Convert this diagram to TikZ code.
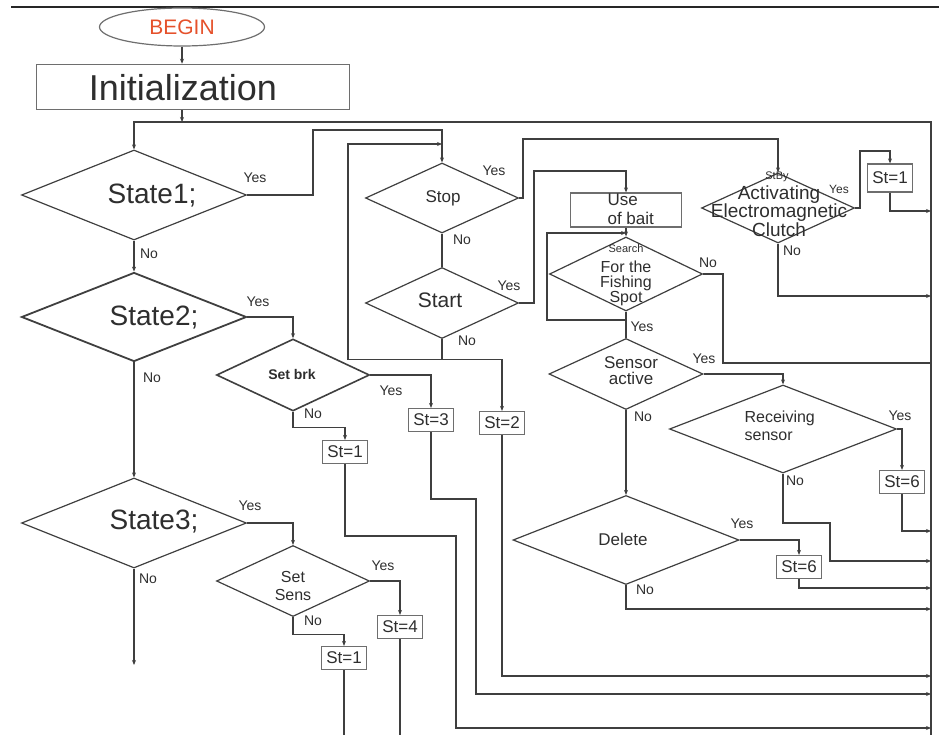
\documentclass[tikz,border=0pt]{standalone}
\usepackage{fontspec}
\setmainfont{Liberation Sans}
\usetikzlibrary{shapes.geometric,arrows.meta}
\definecolor{ln}{HTML}{3F3F3F}
\definecolor{bx}{HTML}{6E6E6E}
\definecolor{tx}{HTML}{2E2E2E}
\definecolor{beg}{HTML}{E5512B}

\begin{document}
\begin{tikzpicture}[x=1pt,y=-1pt,color=ln,line width=1.2pt,
        arr/.style={-{Stealth[length=5pt,width=4pt]}},
        dia/.style 2 args={diamond, draw, inner sep=0pt, minimum width=#1pt, minimum height=#2pt},
        box/.style={draw=bx, minimum width=45pt, minimum height=23pt, inner sep=1pt, text=tx, font=\fontsize{17}{19}\selectfont},
        txt/.style={text=tx, inner sep=0pt, align=center},
        lbl/.style={text=tx, inner sep=0pt, font=\fontsize{14}{16}\selectfont}]
        \useasboundingbox (0,0) rectangle (939,735);
        \draw[line width=2pt, color=black!85] (11,7) -- (939,7);

        \node[ellipse, draw=bx, minimum width=165pt, minimum height=38pt, inner sep=0pt,
            text=beg, font=\fontsize{21}{23}\selectfont] (begin) at (182,27) {BEGIN};
        \node[draw=bx, line width=1.5pt, minimum width=313pt, minimum height=45pt] (init) at (193,87) {};
        \node[txt, font=\fontsize{36}{38}\selectfont] (initt) at (183,88) {Initialization};

        \node[dia={225}{90}] (s1) at (134,195) {};
        \node[dia={225}{89}, line width=1.8pt] (s2) at (134,317) {};
        \node[dia={225}{90}] (s3) at (134,523) {};
        \node[dia={153}{72}, line width=1.6pt] (setbrk) at (293,375) {};
        \node[dia={153}{71}] (setsens) at (293,581) {};
        \node[dia={153}{70}] (stop) at (442,198) {};
        \node[dia={153}{71}] (start) at (442,303) {};
        \node[dia={153}{74}] (search) at (626,274) {};
        \node[dia={154}{71}] (sensor) at (626,374) {};
        \node[dia={227}{88}] (recv) at (783,429) {};
        \node[dia={226}{89}] (delete) at (626,540) {};
        \node[dia={153}{70}] (stby) at (778,208) {};
        \node[draw=bx, minimum width=111pt, minimum height=34pt, inner sep=0pt] (bait) at (626,210) {};

        \node[txt, font=\fontsize{28}{30}\selectfont] (s1t) at (152,196) {State1;};
        \node[txt, font=\fontsize{28}{30}\selectfont] (s2t) at (154,318) {State2;};
        \node[txt, font=\fontsize{28}{30}\selectfont] (s3t) at (154,522) {State3;};
        \node[txt, font=\bfseries\fontsize{14}{16}\selectfont] (setbrkt) at (292,374) {Set brk};
        \node[txt, font=\fontsize{16}{18}\selectfont] (setsenst) at (293,586) {Set\\Sens};
        \node[txt, font=\fontsize{17}{19}\selectfont] (stopt) at (443,198) {Stop};
        \node[txt, font=\fontsize{21}{23}\selectfont] (startt) at (440,300) {Start};
        \node[txt, anchor=west, align=left, font=\fontsize{17}{19}\selectfont] (baitt) at (607,209) {Use\\of bait};
        \node[txt, font=\fontsize{11}{13}\selectfont] (searcht) at (626,249) {Search};
        \node[txt, font=\fontsize{16}{15}\selectfont] (spott) at (626,283) {For the\\Fishing\\Spot};
        \node[txt, font=\fontsize{17}{16}\selectfont] (sensort) at (631,371) {Sensor\\active};
        \node[txt, anchor=west, align=left, font=\fontsize{16}{18}\selectfont] (recvt) at (744,426) {Receiving\\sensor};
        \node[txt, font=\fontsize{17}{19}\selectfont] (deletet) at (623,539) {Delete};
        \node[txt, font=\fontsize{11}{13}\selectfont] (stbyt) at (777,177) {StBy};
        \node[txt, font=\fontsize{19}{17}\selectfont] (clutcht) at (779,211) {Activating\\[-1pt]Electromagnetic\\Clutch};

        \node[box, minimum height=28pt] (st1c) at (890,178) {St=1};
        \node[box] (st3) at (431,420) {St=3};
        \node[box] (st2) at (502,423) {St=2};
        \node[box] (st1a) at (345,452) {St=1};
        \node[box] (st4) at (400,627) {St=4};
        \node[box] (st1b) at (344,658) {St=1};
        \node[box] (st6a) at (902,482) {St=6};
        \node[box] (st6b) at (799,567) {St=6};

        \coordinate (busT) at (931,122);
        \coordinate (busB) at (931,735);
        \coordinate (j0) at (182,122);
        \coordinate (s3end) at (134,665);

        \draw[arr] (begin.south) -- (init.north -| begin.south);
        \draw[arr] (init.south -| j0) -- (j0);
        \draw[arr] (busB) -- (busT) -| (s1.north);
        \draw[arr] (s1.south) -- (s2.north);
        \draw[arr] (s2.south) -- (s3.north);
        \draw[arr] (s3.south) -- (s3end);
        \draw[arr] (s1.east) -| (313,130) -| (stop.north);
        \draw[arr] (s2.east) -| (setbrk.north);
        \draw[arr] (s3.east) -| (setsens.north);
        \draw[arr] (setbrk.east) -| (st3.north);
        \draw[arr] (setbrk.south) -- ++(0,16) -| (st1a.north);
        \draw[arr] (setsens.east) -| (st4.north);
        \draw[arr] (setsens.south) -- ++(0,17) -| (st1b.north);
        \draw (stop.south) -- (start.north);
        \draw[arr] (stop.east) -| (523,139) -| (stby.north);
        \draw[arr] (start.east) -| (534,171) -| (bait.north);
        \draw (start.south) -- ++(0,20) coordinate (j1);
        \draw[arr] (j1) -| (st2.north);
        \draw[arr] (j1) -| (348,144) -- (442,144);
        \draw[arr] (bait.south) -- (search.north);
        \draw[arr] (search.south |- 0,320) -| (547,233) -- (626,233);
        \draw (search.south) -- (sensor.north);
        \draw (search.east) -| (723,363) -- (931,363);
        \draw[arr] (sensor.east) -| (recv.north);
        \draw[arr] (sensor.south) -- (delete.north);
        \draw[arr] (recv.east) -| (st6a.north);
        \draw[arr] (st6a.south) |- (931,531);
        \draw[arr] (recv.south) |- (830,523) |- (931,561);
        \draw[arr] (delete.east) -| (st6b.north);
        \draw[arr] (st6b.south) |- (931,588);
        \draw[arr] (delete.south) |- (931,609);
        \draw[arr] (stby.east) -| (860,151) -| (st1c.north);
        \draw[arr] (st1c.south) |- (931,211);
        \draw[arr] (stby.south) |- (931,296);
        \draw[arr] (st2.south) |- (931,676);
        \draw[arr] (st3.south) |- (476,499) |- (931,694);
        \draw[arr] (st1a.south) |- (456,536) |- (931,728);
        \draw (st4.south) -- (st4.south |- busB);
        \draw (st1b.south) -- (st1b.south |- busB);

        \node[lbl] (y1) at (255,178) {Yes};
        \node[lbl] (n1) at (149,254) {No};
        \node[lbl] (y2) at (258,302) {Yes};
        \node[lbl] (n2) at (152,378) {No};
        \node[lbl] (y3) at (250,506) {Yes};
        \node[lbl] (n3) at (148,579) {No};
        \node[lbl] (ybrk) at (391,391) {Yes};
        \node[lbl] (nbrk) at (313,414) {No};
        \node[lbl] (ysens) at (383,566) {Yes};
        \node[lbl] (nsens) at (313,621) {No};
        \node[lbl] (ystop) at (494,171) {Yes};
        \node[lbl] (nstop) at (462,240) {No};
        \node[lbl] (ystart) at (509,286) {Yes};
        \node[lbl] (nstart) at (467,341) {No};
        \node[lbl, font=\fontsize{12}{14}\selectfont] (ystby) at (839,189) {Yes};
        \node[lbl] (nstby) at (792,251) {No};
        \node[lbl] (nsearch) at (708,263) {No};
        \node[lbl] (ysearch) at (642,327) {Yes};
        \node[lbl] (ysensor) at (704,359) {Yes};
        \node[lbl] (nsensor) at (643,417) {No};
        \node[lbl] (yrecv) at (900,416) {Yes};
        \node[lbl] (nrecv) at (795,481) {No};
        \node[lbl] (ydel) at (742,524) {Yes};
        \node[lbl] (ndel) at (645,590) {No};
\end{tikzpicture}
\end{document}
